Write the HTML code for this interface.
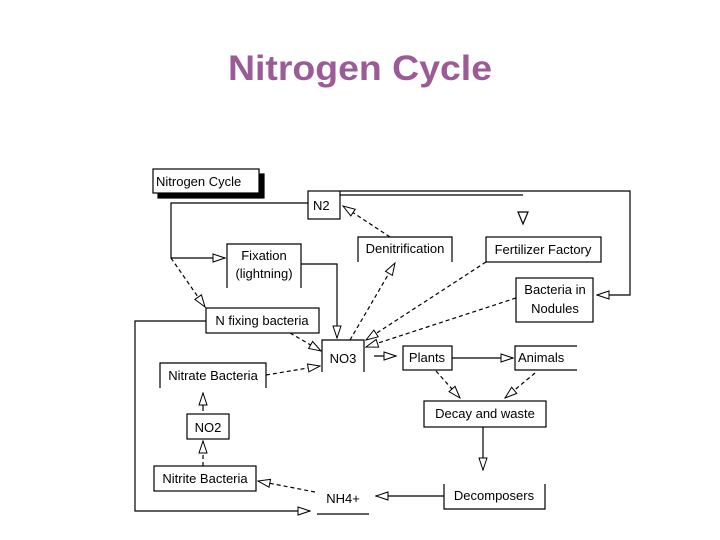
<!DOCTYPE html>
<html><head><style>
html,body{margin:0;padding:0;background:#fff;}
svg{display:block;}
text{font-family:"Liberation Sans",sans-serif;}
</style></head><body>
<svg width="720" height="540" viewBox="0 0 720 540" xmlns="http://www.w3.org/2000/svg">
<defs>
<marker id="a" markerWidth="14" markerHeight="10" refX="13" refY="5" orient="auto" markerUnits="userSpaceOnUse">
<path d="M1,1 L13,5 L1,9 Z" fill="#fff" stroke="#000" stroke-width="1"/>
</marker>
</defs>
<text x="360" y="80" text-anchor="middle" font-size="35" font-weight="bold" fill="#9a5b97" textLength="264" lengthAdjust="spacingAndGlyphs">Nitrogen Cycle</text>
<g stroke="#000" stroke-width="1.2" fill="none">
<!-- Nitrogen Cycle label box with shadow -->
<rect x="158" y="174" width="106" height="24" fill="#000"/>
<rect x="153" y="169" width="106" height="24" fill="#fff"/>
<!-- N2 -->
<rect x="308" y="191" width="32" height="28" fill="#fff"/>
<!-- Fixation open bottom -->
<path d="M227,288 V244 H301 V288"/>
<!-- Denitrification -->
<path d="M358,262 V237 H452 V262"/>
<!-- Fertilizer -->
<rect x="486" y="237" width="115" height="25"/>
<!-- Bacteria nodules -->
<rect x="516" y="278" width="77" height="44"/>
<!-- N fixing -->
<rect x="206" y="308" width="113" height="25"/>
<!-- NO3 -->
<path d="M322,372 V340 H364 V372"/>
<!-- Plants -->
<rect x="403" y="346" width="49" height="24"/>
<!-- Animals -->
<path d="M577,346 H515 V370 H577"/>
<!-- Nitrate bacteria -->
<path d="M160,388 V363 H266 V388"/>
<!-- NO2 -->
<rect x="187" y="414" width="42" height="25"/>
<!-- Decay -->
<rect x="424" y="401" width="122" height="26"/>
<!-- Nitrite -->
<rect x="154" y="466" width="102" height="25"/>
<!-- Decomposers -->
<path d="M444,484 V509 H545 V484"/>
<!-- NH4 underline -->
<path d="M317,514 H369"/>

<!-- connectors -->
<path d="M340,191 H630 V295 H597" marker-end="url(#a)"/>
<path d="M340,195 H523"/>
<path d="M518,212 H528 L523,224 Z" fill="#fff"/>
<path d="M308,203 H171 V258 H225" marker-end="url(#a)"/>
<path d="M171,258 L205,307" stroke-dasharray="4,3" marker-end="url(#a)"/>
<path d="M301,264 H337 V338" marker-end="url(#a)"/>
<path d="M390,237 L343,206" stroke-dasharray="4,3" marker-end="url(#a)"/>
<path d="M350,340 L395,263" stroke-dasharray="4,3" marker-end="url(#a)"/>
<path d="M486,262 L366,340" stroke-dasharray="4,3" marker-end="url(#a)"/>
<path d="M516,298 L366,347" stroke-dasharray="4,3" marker-end="url(#a)"/>
<path d="M290,333 L321,351" stroke-dasharray="4,3" marker-end="url(#a)"/>
<path d="M374,356 L396,356" marker-end="url(#a)"/>
<path d="M452,358 H513" marker-end="url(#a)"/>
<path d="M436,371 L460,398" stroke-dasharray="4,3" marker-end="url(#a)"/>
<path d="M535,373 L505,398" stroke-dasharray="4,3" marker-end="url(#a)"/>
<path d="M483,427 V470" marker-end="url(#a)"/>
<path d="M444,496 H376" marker-end="url(#a)"/>
<path d="M315,492 L258,481" stroke-dasharray="4,3" marker-end="url(#a)"/>
<path d="M203,466 V441" stroke-dasharray="4,3" marker-end="url(#a)"/>
<path d="M203,411 V393" marker-end="url(#a)"/>
<path d="M266,375 L320,366" stroke-dasharray="4,3" marker-end="url(#a)"/>
<path d="M206,321 H135 V511 H310" marker-end="url(#a)"/>
</g>
<g font-size="13" fill="#000">
<text x="156" y="186">Nitrogen Cycle</text>
<text x="313" y="210">N2</text>
<text x="264" y="260" text-anchor="middle">Fixation</text>
<text x="264" y="278" text-anchor="middle">(lightning)</text>
<text x="405" y="253" text-anchor="middle">Denitrification</text>
<text x="543" y="254" text-anchor="middle">Fertilizer Factory</text>
<text x="555" y="294" text-anchor="middle">Bacteria in</text>
<text x="555" y="313" text-anchor="middle">Nodules</text>
<text x="262" y="325" text-anchor="middle">N fixing bacteria</text>
<text x="343" y="363" text-anchor="middle">NO3</text>
<text x="427" y="362" text-anchor="middle">Plants</text>
<text x="518" y="362">Animals</text>
<text x="213" y="380" text-anchor="middle">Nitrate Bacteria</text>
<text x="208" y="432" text-anchor="middle">NO2</text>
<text x="485" y="418" text-anchor="middle">Decay and waste</text>
<text x="205" y="483" text-anchor="middle">Nitrite Bacteria</text>
<text x="494" y="500" text-anchor="middle">Decomposers</text>
<text x="343" y="503" text-anchor="middle">NH4+</text>
</g>
</svg>
</body></html>
